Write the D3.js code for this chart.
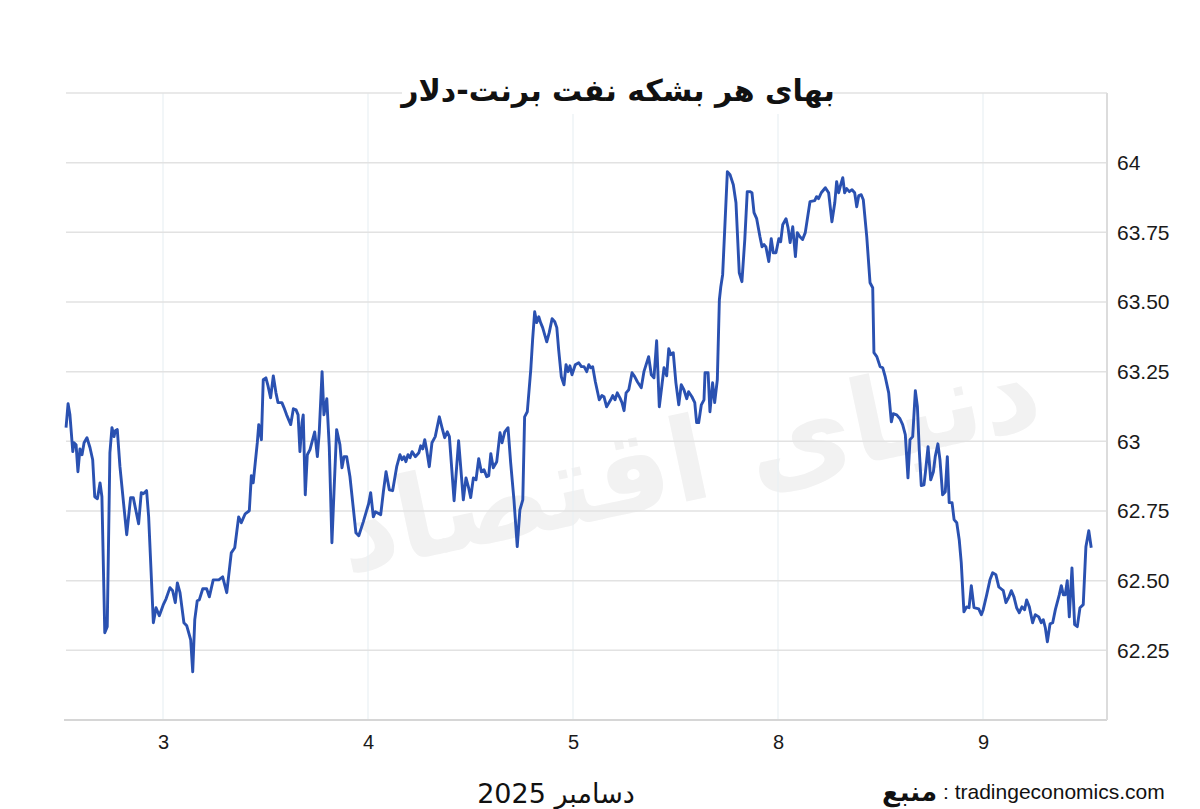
<!DOCTYPE html>
<html>
<head>
<meta charset="utf-8">
<script src="https://cdn.jsdelivr.net/npm/d3@7/dist/d3.min.js"></script>
<style>
  html, body { margin: 0; padding: 0; background: #ffffff; }
  svg { display: block; }
</style>
</head>
<body>
<svg id="chart" width="1200" height="809"></svg>
<script>
// ---------- DATA ----------
const titleText = "بهای هر بشکه نفت برنت-دلار";
const xTickValues = [0, 1, 2, 3, 4];           // trading-day index
const xTickLabels = ["3", "4", "5", "8", "9"];  // day of month (December)
const yTickValues = [62.25, 62.5, 62.75, 63, 63.25, 63.5, 63.75, 64];
const yTickLabels = ["62.25", "62.50", "62.75", "63", "63.25", "63.50", "63.75", "64"];
const monthLabel = "دسامبر 2025";
const sourceLabel = "منبع";
const sourceSite = ": tradingeconomics.com";
const watermarkText = "دنیای اقتصاد";

// time in trading days relative to Dec 3 (0 = Dec 3)
const dayOffset = [
-0.473,-0.463,-0.454,-0.440,-0.434,-0.424,-0.415,-0.405,-0.395,-0.385,-0.371,-0.356,-0.343,-0.333,-0.320,-0.307,-0.298,-0.284,-0.272,-0.259,
-0.249,-0.239,-0.233,-0.223,-0.210,-0.194,-0.177,-0.158,-0.145,-0.119,-0.106,-0.096,-0.080,-0.070,-0.047,-0.034,-0.018,0.001,0.015,0.034,
0.047,0.060,0.070,0.083,0.102,0.116,0.135,0.145,0.155,0.167,0.177,0.194,0.213,0.226,0.245,0.272,0.291,0.311,0.333,0.350,
0.369,0.382,0.401,0.421,0.431,0.440,0.460,0.467,0.480,0.489,0.502,0.512,0.525,0.538,0.551,0.561,0.580,0.590,0.603,0.623,
0.636,0.649,0.659,0.668,0.678,0.684,0.694,0.704,0.717,0.740,0.753,0.762,0.776,0.785,0.799,0.811,0.824,0.834,0.847,0.863,
0.873,0.883,0.896,0.912,0.941,0.955,0.977,1.003,1.013,1.026,1.036,1.062,1.075,1.088,1.104,1.120,1.140,1.156,1.166,1.176,
1.185,1.195,1.205,1.215,1.231,1.248,1.257,1.267,1.277,1.286,1.299,1.312,1.328,1.348,1.361,1.374,1.387,1.397,1.420,1.442,
1.465,1.478,1.491,1.501,1.514,1.527,1.540,1.553,1.566,1.579,1.589,1.599,1.611,1.628,1.644,1.654,1.667,1.683,1.696,1.712,
1.728,1.741,1.755,1.764,1.777,1.794,1.803,1.813,1.823,1.833,1.842,1.852,1.872,1.884,1.898,1.911,1.921,1.930,1.943,1.956,
1.966,1.976,1.985,1.995,2.011,2.028,2.041,2.054,2.067,2.077,2.086,2.096,2.109,2.128,2.141,2.151,2.164,2.184,2.194,2.205,
2.216,2.229,2.239,2.249,2.259,2.272,2.288,2.301,2.314,2.333,2.346,2.369,2.382,2.395,2.408,2.421,2.434,2.444,2.457,2.467,
2.477,2.489,2.502,2.516,2.528,2.541,2.555,2.564,2.580,2.594,2.603,2.613,2.626,2.639,2.644,2.659,2.668,2.681,2.691,2.704,
2.714,2.721,2.730,2.753,2.766,2.782,2.795,2.811,2.824,2.838,2.850,2.863,2.873,2.883,2.896,2.912,2.922,2.932,2.941,2.955,
2.967,2.977,2.990,3.004,3.013,3.023,3.039,3.049,3.059,3.072,3.085,3.094,3.107,3.120,3.133,3.156,3.179,3.188,3.198,3.211,
3.231,3.247,3.263,3.277,3.286,3.296,3.306,3.316,3.325,3.335,3.348,3.361,3.374,3.384,3.394,3.406,3.416,3.433,3.449,3.462,
3.468,3.482,3.498,3.511,3.523,3.540,3.553,3.562,3.579,3.595,3.608,3.621,3.634,3.644,3.657,3.670,3.680,3.689,3.699,3.712,
3.719,3.732,3.745,3.758,3.767,3.780,3.790,3.803,3.816,3.826,3.835,3.849,3.859,3.872,3.884,3.894,3.907,3.920,3.932,3.943,
3.956,3.979,3.992,4.001,4.018,4.034,4.047,4.063,4.077,4.088,4.099,4.112,4.125,4.138,4.151,4.164,4.177,4.190,4.203,4.213,
4.226,4.242,4.255,4.272,4.284,4.294,4.304,4.314,4.327,4.340,4.353,4.372,4.382,4.392,4.401,4.411,4.421,4.434,4.447,4.460,
4.473,4.489,4.502,4.516,4.528
];
// Brent price, USD per barrel
const brentPrice = [
63.049,63.135,63.095,62.963,62.995,62.988,62.891,62.973,62.952,62.995,63.013,62.977,62.934,62.801,62.794,62.851,62.801,62.313,62.335,62.959,
63.049,63.017,63.038,63.042,62.909,62.790,62.665,62.798,62.798,62.704,62.816,62.812,62.823,62.729,62.349,62.403,62.374,62.413,62.435,62.475,
62.464,62.421,62.492,62.457,62.349,62.338,62.288,62.173,62.360,62.428,62.431,62.471,62.471,62.442,62.503,62.503,62.514,62.457,62.600,62.618,
62.729,62.708,62.740,62.751,62.877,62.851,62.995,63.060,63.006,63.221,63.228,63.200,63.156,63.235,63.174,63.139,63.139,63.121,63.095,63.060,
63.117,63.113,63.095,62.963,63.067,63.095,62.808,62.952,62.970,63.034,62.945,63.031,63.250,63.095,63.153,62.981,62.636,62.816,63.042,62.988,
62.905,62.945,62.945,62.873,62.672,62.661,62.711,62.776,62.816,62.729,62.747,62.737,62.819,62.891,62.826,62.823,62.909,62.952,62.934,62.945,
62.927,62.952,62.941,62.963,62.945,62.959,62.984,62.973,63.006,62.970,62.909,62.995,63.017,63.088,63.049,63.013,63.034,63.017,62.787,63.002,
62.790,62.869,62.833,62.798,62.869,62.862,62.938,62.891,62.898,62.873,62.877,62.956,62.905,62.927,63.031,62.995,63.034,63.049,62.923,62.790,
62.622,62.754,62.790,63.088,63.106,63.257,63.365,63.465,63.426,63.447,63.426,63.408,63.357,63.390,63.440,63.429,63.408,63.329,63.232,63.203,
63.275,63.250,63.271,63.239,63.275,63.282,63.268,63.268,63.250,63.275,63.264,63.268,63.214,63.149,63.164,63.160,63.124,63.149,63.164,63.149,
63.174,63.156,63.139,63.110,63.174,63.185,63.246,63.232,63.214,63.192,63.250,63.304,63.239,63.228,63.361,63.124,63.203,63.264,63.235,63.332,
63.311,63.318,63.210,63.131,63.203,63.185,63.153,63.178,63.160,63.139,63.067,63.067,63.131,63.149,63.246,63.246,63.106,63.210,63.139,63.221,
63.508,63.555,63.598,63.968,63.957,63.921,63.856,63.605,63.573,63.724,63.896,63.896,63.892,63.821,63.799,63.734,63.698,63.706,63.698,63.645,
63.727,63.677,63.677,63.727,63.716,63.777,63.799,63.767,63.713,63.770,63.663,63.749,63.734,63.724,63.749,63.860,63.864,63.878,63.871,63.892,
63.910,63.892,63.788,63.856,63.932,63.892,63.921,63.946,63.892,63.907,63.896,63.903,63.892,63.842,63.882,63.885,63.867,63.734,63.569,63.551,
63.318,63.304,63.268,63.264,63.232,63.174,63.070,63.099,63.095,63.081,63.060,63.024,62.869,63.006,63.017,63.182,63.124,62.970,62.841,62.844,
62.888,62.981,62.862,62.891,62.945,62.991,62.934,62.808,62.819,62.945,62.780,62.780,62.719,62.708,62.647,62.564,62.388,62.406,62.403,62.482,
62.403,62.399,62.378,62.396,62.449,62.503,62.528,62.521,62.478,62.471,62.464,62.421,62.439,62.464,62.442,62.403,62.385,62.406,62.396,62.431,
62.406,62.349,62.378,62.370,62.349,62.360,62.331,62.281,62.345,62.349,62.396,62.449,62.482,62.449,62.449,62.500,62.370,62.546,62.342,62.335,
62.403,62.414,62.622,62.679,62.618
];

// ---------- CHART ----------
const svg = d3.select("#chart");
const W = 1200, H = 809;
const plotLeft = 66, plotRight = 1107, plotTop = 93, plotBottom = 720;

const x = d3.scaleLinear().domain([0, 4]).range([163, 983]);
const y = d3.scaleLinear().domain([62, 64.25]).range([plotBottom, plotTop]);

svg.append("rect").attr("width", W).attr("height", H).attr("fill", "#ffffff");

// watermark
svg.append("text")
  .attr("x", 690).attr("y", 500)
  .attr("text-anchor", "middle")
  .attr("direction", "rtl")
  .attr("transform", "rotate(-12,690,470)")
  .attr("font-family", "DejaVu Sans, sans-serif")
  .attr("font-weight", "bold")
  .attr("font-size", 115)
  .attr("fill", "#f2f2f2")
  .text(watermarkText);

// vertical gridlines
svg.append("g").selectAll("line").data(xTickValues).join("line")
  .attr("x1", d => x(d)).attr("x2", d => x(d))
  .attr("y1", plotTop).attr("y2", plotBottom)
  .attr("stroke", "#eaf0f3").attr("stroke-width", 1.2);

// horizontal gridlines
svg.append("g").selectAll("line").data(yTickValues.concat([64.25])).join("line")
  .attr("x1", plotLeft).attr("x2", plotRight)
  .attr("y1", d => y(d)).attr("y2", d => y(d))
  .attr("stroke", "#e2e2e2").attr("stroke-width", 1.5);

// bottom axis line
svg.append("line")
  .attr("x1", plotLeft - 2).attr("x2", plotRight)
  .attr("y1", plotBottom).attr("y2", plotBottom)
  .attr("stroke", "#d6d6d6").attr("stroke-width", 2);

// right axis line
svg.append("line")
  .attr("x1", plotRight).attr("x2", plotRight)
  .attr("y1", plotTop).attr("y2", plotBottom)
  .attr("stroke", "#dcdcdc").attr("stroke-width", 2);

// y labels (right)
const yAxis = d3.axisRight(y).tickValues(yTickValues)
  .tickFormat((d, i) => yTickLabels[i]).tickSize(0).tickPadding(10);
const gy = svg.append("g").attr("transform", `translate(${plotRight},0)`).call(yAxis);
gy.select(".domain").remove();
gy.selectAll("text")
  .attr("font-family", "Liberation Sans, Arial, sans-serif")
  .attr("font-size", 21).attr("fill", "#1a1a1a");

// x labels
const xAxis = d3.axisBottom(x).tickValues(xTickValues)
  .tickFormat((d, i) => xTickLabels[i]).tickSize(0).tickPadding(15);
const gx = svg.append("g").attr("transform", `translate(0,${plotBottom})`).call(xAxis);
gx.select(".domain").remove();
gx.selectAll("text")
  .attr("font-family", "Liberation Sans, Arial, sans-serif")
  .attr("font-size", 20).attr("fill", "#1a1a1a");

// price line
const line = d3.line()
  .x((d, i) => x(dayOffset[i]))
  .y(d => y(d));
svg.append("path")
  .datum(brentPrice)
  .attr("d", line)
  .attr("fill", "none")
  .attr("stroke", "#2a51b1")
  .attr("stroke-width", 2.9)
  .attr("stroke-linejoin", "round");

// title with white backing
svg.append("rect").attr("x", 402).attr("y", 64).attr("width", 430).attr("height", 50).attr("fill", "#ffffff");
svg.append("text")
  .attr("x", 618).attr("y", 101)
  .attr("text-anchor", "middle")
  .attr("direction", "rtl")
  .attr("font-family", "DejaVu Sans, sans-serif")
  .attr("font-weight", "bold")
  .attr("font-size", 30)
  .attr("fill", "#111111")
  .text(titleText);

// footer
svg.append("text")
  .attr("x", 556).attr("y", 803)
  .attr("text-anchor", "middle")
  .attr("direction", "rtl")
  .attr("font-family", "DejaVu Sans, sans-serif")
  .attr("font-size", 27)
  .attr("fill", "#111111")
  .text(monthLabel);

svg.append("text")
  .attr("x", 937).attr("y", 801)
  .attr("text-anchor", "end")
  .attr("font-family", "DejaVu Sans, sans-serif")
  .attr("font-weight", "bold")
  .attr("font-size", 26)
  .attr("fill", "#111111")
  .text(sourceLabel);

svg.append("text")
  .attr("x", 943).attr("y", 799)
  .attr("text-anchor", "start")
  .attr("font-family", "Liberation Sans, Arial, sans-serif")
  .attr("font-size", 21)
  .attr("fill", "#111111")
  .text(sourceSite);
</script>
</body>
</html>
